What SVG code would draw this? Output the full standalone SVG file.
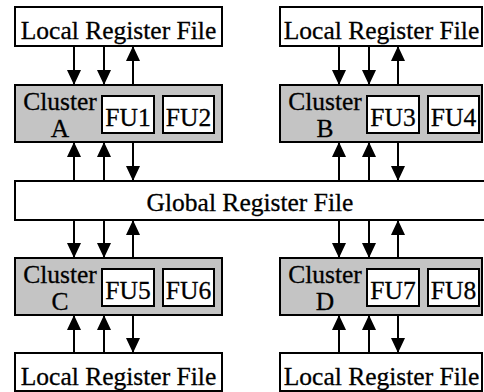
<svg xmlns="http://www.w3.org/2000/svg" width="484" height="392" viewBox="0 0 484 392">
<defs>
<style>
.box{fill:#fff;stroke:#000;stroke-width:2}
.cl{fill:#c4c4c4;stroke:#000;stroke-width:2}
.t{font-family:'Liberation Serif','Times New Roman',serif;font-size:25.5px;fill:#000;stroke:#000;stroke-width:0.3;text-anchor:middle}
.a{stroke:#000;stroke-width:2;fill:none;marker-end:url(#ah)}
</style>
<marker id="ah" markerUnits="userSpaceOnUse" markerWidth="16" markerHeight="16" viewBox="0 0 16 16" refX="15" refY="7.5" orient="auto">
<path d="M0,0.5 L15,7.5 L0,14.5 Z" fill="#000"/>
</marker>
</defs>
<rect width="484" height="392" fill="#fff"/>
<g id="connectors">
<line class="a" x1="74" y1="46" x2="74" y2="85"/>
<line class="a" x1="104" y1="46" x2="104" y2="85"/>
<line class="a" x1="133" y1="85" x2="133" y2="46"/>
<line class="a" x1="339" y1="46" x2="339" y2="85"/>
<line class="a" x1="369" y1="46" x2="369" y2="85"/>
<line class="a" x1="398" y1="85" x2="398" y2="46"/>
<line class="a" x1="74" y1="181" x2="74" y2="142"/>
<line class="a" x1="104" y1="181" x2="104" y2="142"/>
<line class="a" x1="133" y1="142" x2="133" y2="181"/>
<line class="a" x1="339" y1="181" x2="339" y2="142"/>
<line class="a" x1="369" y1="181" x2="369" y2="142"/>
<line class="a" x1="398" y1="142" x2="398" y2="181"/>
<line class="a" x1="74" y1="220" x2="74" y2="258"/>
<line class="a" x1="104" y1="220" x2="104" y2="258"/>
<line class="a" x1="133" y1="258" x2="133" y2="220"/>
<line class="a" x1="339" y1="220" x2="339" y2="258"/>
<line class="a" x1="369" y1="220" x2="369" y2="258"/>
<line class="a" x1="398" y1="258" x2="398" y2="220"/>
<line class="a" x1="74" y1="353" x2="74" y2="315"/>
<line class="a" x1="104" y1="353" x2="104" y2="315"/>
<line class="a" x1="133" y1="315" x2="133" y2="353"/>
<line class="a" x1="339" y1="353" x2="339" y2="315"/>
<line class="a" x1="369" y1="353" x2="369" y2="315"/>
<line class="a" x1="398" y1="315" x2="398" y2="353"/>
</g>
<g id="lrf-a"><rect class="box" x="15" y="7" width="207" height="39"/><text class="t" x="118.5" y="39">Local Register File</text></g>
<g id="lrf-b"><rect class="box" x="280" y="7" width="202" height="39"/><text class="t" x="381.5" y="39">Local Register File</text></g>
<g id="cluster-a"><rect class="cl" x="15" y="85" width="207" height="57"/><text class="t" x="60" y="110">Cluster</text><text class="t" x="60" y="137">A</text></g>
<g id="fu1"><rect class="box" x="102" y="96" width="52" height="37"/><text class="t" x="128" y="126">FU1</text></g>
<g id="fu2"><rect class="box" x="163" y="96" width="51" height="37"/><text class="t" x="188.5" y="126">FU2</text></g>
<g id="cluster-b"><rect class="cl" x="280" y="85" width="202" height="57"/><text class="t" x="325" y="110">Cluster</text><text class="t" x="325" y="137">B</text></g>
<g id="fu3"><rect class="box" x="367" y="96" width="52" height="37"/><text class="t" x="393" y="126">FU3</text></g>
<g id="fu4"><rect class="box" x="428" y="96" width="51" height="37"/><text class="t" x="453.5" y="126">FU4</text></g>
<g id="global"><rect class="box" x="15" y="181" width="480" height="39"/><text class="t" x="250" y="211">Global Register File</text></g>
<g id="cluster-c"><rect class="cl" x="15" y="258" width="207" height="57"/><text class="t" x="60" y="283">Cluster</text><text class="t" x="60" y="310">C</text></g>
<g id="fu5"><rect class="box" x="102" y="269" width="52" height="37"/><text class="t" x="128" y="299">FU5</text></g>
<g id="fu6"><rect class="box" x="163" y="269" width="51" height="37"/><text class="t" x="188.5" y="299">FU6</text></g>
<g id="cluster-d"><rect class="cl" x="280" y="258" width="202" height="57"/><text class="t" x="325" y="283">Cluster</text><text class="t" x="325" y="310">D</text></g>
<g id="fu7"><rect class="box" x="367" y="269" width="52" height="37"/><text class="t" x="393" y="299">FU7</text></g>
<g id="fu8"><rect class="box" x="428" y="269" width="51" height="37"/><text class="t" x="453.5" y="299">FU8</text></g>
<g id="lrf-c"><rect class="box" x="15" y="353" width="207" height="38"/><text class="t" x="118.5" y="385">Local Register File</text></g>
<g id="lrf-d"><rect class="box" x="280" y="353" width="202" height="38"/><text class="t" x="381.5" y="385">Local Register File</text></g>
</svg>
